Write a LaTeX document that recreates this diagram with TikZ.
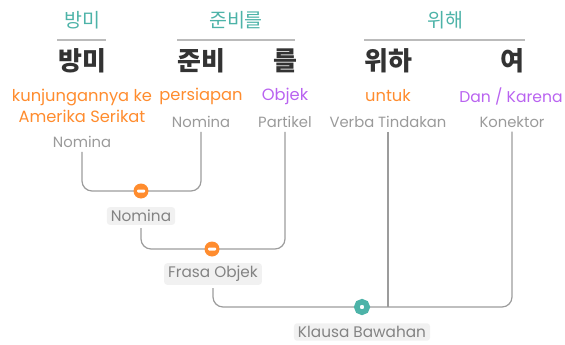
\documentclass[tikz,border=0pt]{standalone}
\usepackage{fontspec}
\setmainfont{Poppins}
\newfontfamily\kr{Noto Sans CJK KR}
\definecolor{teal1}{HTML}{4DB3A8}
\definecolor{orng}{HTML}{FF8C2E}
\definecolor{purp}{HTML}{B963F0}
\definecolor{dark}{HTML}{333333}
\definecolor{gry}{HTML}{9A9A9A}
\definecolor{lgry}{HTML}{BBBBBB}
\definecolor{boxg}{HTML}{F1F1F1}
\definecolor{linec}{HTML}{9C9C9C}
\tikzset{
  x=1pt,y=1pt,
  toplab/.style={text=teal1,font=\kr\fontsize{19.5}{22}\selectfont,inner sep=0pt},
  bigword/.style={text=dark,font=\kr\bfseries\fontsize{26}{28}\selectfont,inner sep=0pt},
  transl/.style={font=\fontsize{16.3}{21}\selectfont,inner sep=0pt,align=center},
  posl/.style={text=gry,font=\fontsize{14.8}{17}\selectfont,inner ysep=4pt,inner xsep=0pt},
  ul/.style={draw=lgry,line width=1.2pt},
  conn/.style={draw=linec,line width=1.2pt,rounded corners=10pt},
  lab/.style={fill=boxg,text=gry!85!black,rounded corners=3pt,font=\fontsize{15.3}{17}\selectfont,inner xsep=4pt,inner ysep=3pt},
  odot/.style={circle,fill=orng,minimum size=15pt,inner sep=0pt},
  tdot/.style={circle,draw=teal1,line width=5.5pt,fill=white,minimum size=10.5pt,inner sep=0pt},
}
\begin{document}
\begin{tikzpicture}
\useasboundingbox (0,0) rectangle (565,-345);
% top group labels
\node[toplab] (g1) at (82,-20) {방미};
\node[toplab] (g2) at (236,-20) {준비를};
\node[toplab] (g3) at (445,-20) {위해};
\coordinate (g1a) at (57,-40); \coordinate (g1b) at (106,-40);
\coordinate (g2a) at (177,-40); \coordinate (g2b) at (295,-40);
\coordinate (g3a) at (364,-40); \coordinate (g3b) at (525,-40);
\draw[ul] (g1a) -- (g1b);
\draw[ul] (g2a) -- (g2b);
\draw[ul] (g3a) -- (g3b);
% words
\node[bigword] (k1) at (82,-61) {방미};
\node[bigword] (k2) at (201,-61) {준비};
\node[bigword] (k3) at (285,-61) {를};
\node[bigword] (k4) at (388,-61) {위하};
\node[bigword] (k5) at (512,-61) {여};
% translations
\node[transl,text=orng] (e1) at (82,-106) {kunjungannya ke\\Amerika Serikat};
\node[transl,text=orng] (e2) at (201,-96) {persiapan};
\node[transl,text=purp] (e3) at (285,-96) {Objek};
\node[transl,text=orng] (e4) at (388,-96) {untuk};
\node[transl,text=purp,font=\fontsize{15.6}{21}\selectfont] (e5) at (511,-96) {Dan / Karena};
% parts of speech
\node[posl] (p1) at (82,-142) {Nomina};
\node[posl] (p2) at (201,-122) {Nomina};
\node[posl] (p3) at (285,-122) {Partikel};
\node[posl] (p4) at (388,-122) {Verba Tindakan};
\node[posl] (p5) at (512,-122) {Konektor};
% junctions
\coordinate (c1) at (141,-191);
\coordinate (c2) at (212,-249);
\coordinate (c3) at (362,-307);
\node[lab] (n1) at (141,-216) {Nomina};
\node[lab] (n2) at (213,-274) {Frasa Objek};
\node[lab] (n3) at (362,-332) {Klausa Bawahan};
\draw[conn] (p1.south) |- (c1) -| (p2.south);
\draw[conn] ([yshift=-3pt]n1.south) |- (c2) -| (p3.south);
\draw[conn] ([yshift=-3pt]n2.south) |- (c3) -| (p5.south);
\draw[conn] (p4.south) -- (p4.south |- c3);
\node[odot] (d1) at (c1) {};
\node[odot] (d2) at (c2) {};
\node[tdot] (d3) at (c3) {};
\fill[white,rounded corners=1pt] ([xshift=-4pt,yshift=-1.5pt]d1.center) rectangle ([xshift=4pt,yshift=1.5pt]d1.center);
\fill[white,rounded corners=1pt] ([xshift=-4pt,yshift=-1.5pt]d2.center) rectangle ([xshift=4pt,yshift=1.5pt]d2.center);
\end{tikzpicture}
\end{document}
